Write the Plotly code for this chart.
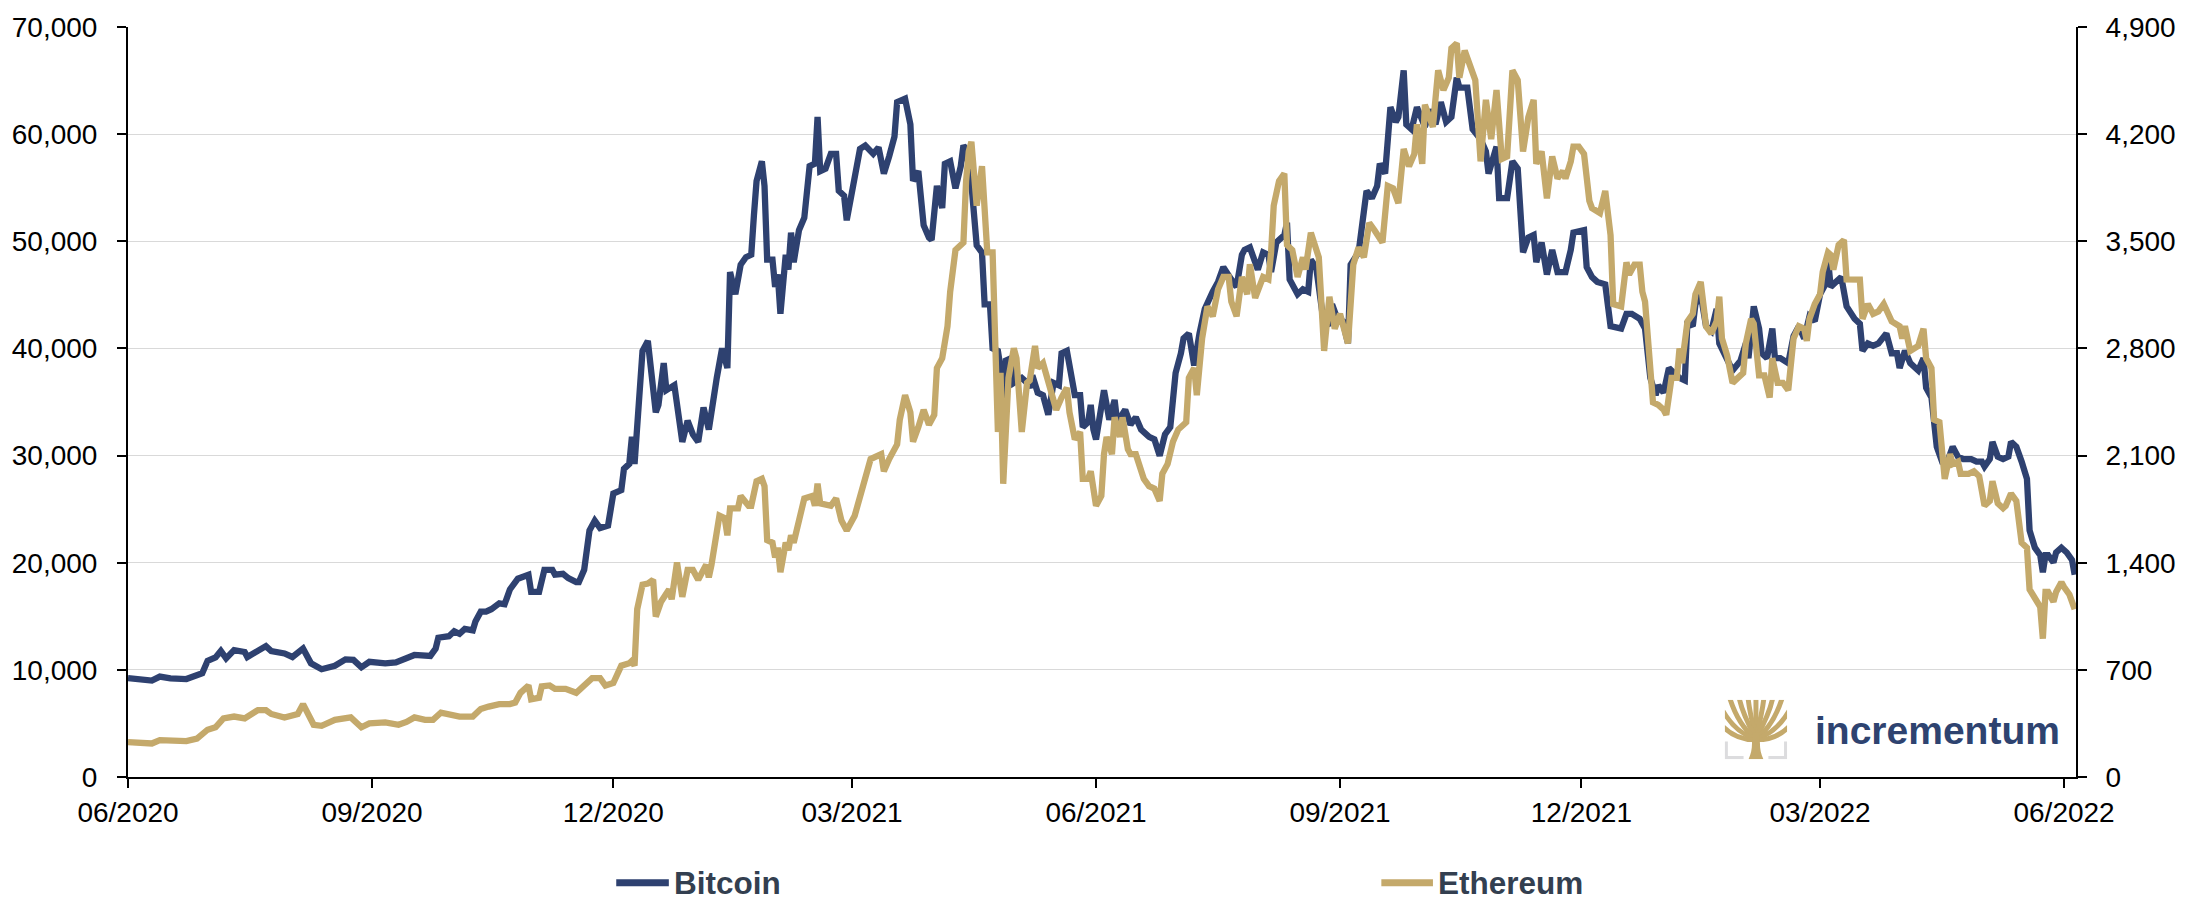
import base64
import plotly.graph_objects as go

# ---------------- data ----------------
btc_dates = [
 "2020-06-27","2020-07-01","2020-07-06","2020-07-09","2020-07-13","2020-07-19","2020-07-22","2020-07-25","2020-07-27","2020-07-30",
 "2020-08-01","2020-08-03","2020-08-06","2020-08-10","2020-08-11","2020-08-15","2020-08-18","2020-08-20","2020-08-25","2020-08-28",
 "2020-09-01","2020-09-04","2020-09-08","2020-09-13","2020-09-17","2020-09-20","2020-09-23","2020-09-26",
 "2020-10-02","2020-10-06","2020-10-10","2020-10-13","2020-10-19","2020-10-21","2020-10-22","2020-10-26","2020-10-28","2020-10-30",
 "2020-11-01","2020-11-04","2020-11-05","2020-11-07","2020-11-09","2020-11-11","2020-11-14","2020-11-16","2020-11-18","2020-11-21","2020-11-25","2020-11-26","2020-11-29",
 "2020-12-01","2020-12-04","2020-12-05","2020-12-08","2020-12-10","2020-12-13","2020-12-14","2020-12-16","2020-12-17","2020-12-18","2020-12-20","2020-12-22","2020-12-25","2020-12-27","2020-12-30","2020-12-31",
 "2021-01-02","2021-01-03","2021-01-04","2021-01-06","2021-01-07","2021-01-09","2021-01-12","2021-01-13","2021-01-15","2021-01-16","2021-01-19","2021-01-22","2021-01-24","2021-01-26","2021-01-28","2021-01-30",
 "2021-02-01","2021-02-04","2021-02-06","2021-02-08","2021-02-09","2021-02-11","2021-02-13","2021-02-15","2021-02-17","2021-02-18","2021-02-19","2021-02-21","2021-02-22","2021-02-23","2021-02-25","2021-02-26","2021-02-27","2021-02-28",
 "2021-03-02","2021-03-03","2021-03-04","2021-03-05","2021-03-07","2021-03-09","2021-03-11","2021-03-13","2021-03-14","2021-03-15","2021-03-17","2021-03-19","2021-03-21","2021-03-22","2021-03-24","2021-03-25","2021-03-28","2021-03-30",
 "2021-04-01","2021-04-04","2021-04-06","2021-04-08","2021-04-10","2021-04-12","2021-04-13","2021-04-16","2021-04-18","2021-04-19","2021-04-21","2021-04-23","2021-04-25","2021-04-26","2021-04-28","2021-04-30",
 "2021-05-01","2021-05-03","2021-05-05","2021-05-07","2021-05-08","2021-05-09","2021-05-11","2021-05-13","2021-05-15","2021-05-16","2021-05-18","2021-05-19","2021-05-21","2021-05-22","2021-05-23","2021-05-24","2021-05-26","2021-05-27","2021-05-30",
 "2021-06-01","2021-06-02","2021-06-03","2021-06-05","2021-06-07","2021-06-09","2021-06-11","2021-06-13","2021-06-14","2021-06-16","2021-06-17","2021-06-19","2021-06-21","2021-06-22","2021-06-24","2021-06-25","2021-06-26","2021-06-27","2021-06-30",
 "2021-07-02","2021-07-04","2021-07-05","2021-07-08","2021-07-10","2021-07-12","2021-07-14","2021-07-17","2021-07-19","2021-07-21","2021-07-23","2021-07-25","2021-07-27","2021-07-29","2021-07-30",
 "2021-08-01","2021-08-03","2021-08-05","2021-08-07","2021-08-10","2021-08-12","2021-08-14","2021-08-16","2021-08-17","2021-08-19","2021-08-21","2021-08-22","2021-08-24","2021-08-27","2021-08-29","2021-08-31",
 "2021-09-01","2021-09-03","2021-09-06","2021-09-07","2021-09-08","2021-09-11","2021-09-13","2021-09-15","2021-09-16","2021-09-18","2021-09-21","2021-09-23","2021-09-24","2021-09-26","2021-09-28","2021-09-30",
 "2021-10-01","2021-10-04","2021-10-07","2021-10-09","2021-10-11","2021-10-12","2021-10-14","2021-10-16","2021-10-18","2021-10-19","2021-10-21","2021-10-22","2021-10-24","2021-10-26","2021-10-27","2021-10-29","2021-10-31",
 "2021-11-02","2021-11-04","2021-11-06","2021-11-08","2021-11-10","2021-11-11","2021-11-14","2021-11-16","2021-11-19","2021-11-21","2021-11-22","2021-11-25","2021-11-26","2021-11-29",
 "2021-12-01","2021-12-03","2021-12-05","2021-12-07","2021-12-09","2021-12-10","2021-12-12","2021-12-14","2021-12-16","2021-12-18","2021-12-21","2021-12-23","2021-12-24","2021-12-28","2021-12-29","2021-12-31",
 "2022-01-02","2022-01-05","2022-01-06","2022-01-07","2022-01-11","2022-01-13","2022-01-15","2022-01-18","2022-01-20","2022-01-22","2022-01-24","2022-01-25","2022-01-27","2022-01-29","2022-01-31",
 "2022-02-02","2022-02-04","2022-02-05","2022-02-07","2022-02-08","2022-02-10","2022-02-12","2022-02-14","2022-02-16","2022-02-17","2022-02-20","2022-02-22","2022-02-25","2022-02-27","2022-02-28",
 "2022-03-02","2022-03-04","2022-03-05","2022-03-07","2022-03-09","2022-03-10","2022-03-12","2022-03-15","2022-03-17","2022-03-19","2022-03-21","2022-03-23","2022-03-25","2022-03-27","2022-03-29","2022-03-30","2022-03-31",
 "2022-04-02","2022-04-04","2022-04-06","2022-04-09","2022-04-11","2022-04-12","2022-04-14","2022-04-16","2022-04-18","2022-04-21","2022-04-23","2022-04-25","2022-04-26","2022-04-28","2022-04-30",
 "2022-05-03","2022-05-05","2022-05-06","2022-05-08","2022-05-09","2022-05-10","2022-05-12","2022-05-14","2022-05-16","2022-05-18","2022-05-20","2022-05-23","2022-05-25","2022-05-27","2022-05-28","2022-05-30","2022-05-31",
 "2022-06-02","2022-06-04","2022-06-06","2022-06-07","2022-06-09","2022-06-11","2022-06-13","2022-06-14","2022-06-16","2022-06-18","2022-06-19","2022-06-20","2022-06-21","2022-06-23","2022-06-24","2022-06-26","2022-06-28","2022-06-30","2022-07-01",
]
btc_usd = [
 9230,9150,9000,9370,9200,9140,9400,9690,10840,11160,
 11760,11070,11850,11670,11200,11760,12220,11760,11530,11200,
 11990,10610,10060,10380,10980,10930,10240,10750,
 10610,10700,11100,11390,11300,11990,13000,13140,13600,13370,
 13830,13690,14510,15430,15430,15660,16210,16120,17500,18510,18880,17270,17270,
 19340,19340,18880,18970,18560,18190,18190,19340,20950,23010,23930,23240,23470,26460,26780,28760,
 29220,31740,29220,35420,39780,40700,34040,34730,38630,36110,36570,31280,33250,31970,31280,34500,
 32430,37250,40010,38170,47130,45060,47820,48510,48740,52410,55630,57470,55170,48280,48280,45750,46900,43230,
 48740,47360,50810,48050,51040,52190,57010,57240,61600,56550,56780,58160,58160,54710,54250,51960,56090,58620,
 58940,58160,58760,56320,57930,59770,62990,63310,60920,55630,56550,51500,50350,50120,55170,53100,
 57240,57470,54940,57010,58940,58580,55370,49630,48940,44120,44120,40010,39780,38170,34040,38860,39090,36790,37250,
 36790,36330,37480,35870,35640,33810,36790,36560,39550,39780,38170,35640,35640,32660,33120,34730,32430,31510,36100,
 33350,35190,33120,34270,32890,33580,32430,31740,31510,29990,31970,32660,37710,39550,40930,
 41390,38400,41390,43690,45300,46210,47590,46670,46440,45750,48740,49200,49430,47360,48970,48740,
 47130,49890,50580,51730,46440,45060,45520,45290,48280,47590,42080,42310,44120,42770,42540,40470,
 47820,48970,54710,54020,55170,57240,56320,62520,61140,61600,65960,60900,60450,62520,61830,60680,62290,
 60920,62990,61140,61600,65270,64350,64350,60450,59530,58390,56320,58840,54020,54020,
 57470,56780,48970,50350,50580,48050,49890,46900,49200,47130,47130,49200,50810,51040,47590,46670,
 46210,45980,43690,42080,41850,43230,43230,42770,41850,37250,35640,36560,35870,38170,37710,
 37250,37020,42540,42080,44120,45060,42080,41620,43690,40470,39090,37940,38860,40470,39090,
 43920,41850,39550,39090,41850,39090,39090,38630,41160,42080,40930,42990,42540,45060,45980,48280,45750,
 46210,46670,43920,42770,42310,39780,40470,40240,40470,41390,39550,39550,38170,39780,38630,
 37940,39090,36330,35420,32200,30820,29440,29440,30820,29900,29670,29670,29440,29440,28980,29670,31280,
 29900,29670,29900,31280,30820,29440,27830,23010,21400,20710,19110,20710,20710,20020,20950,21400,20950,20250,18880,
]

eth_dates = [
 "2020-06-27","2020-07-01","2020-07-06","2020-07-09","2020-07-14","2020-07-19","2020-07-23","2020-07-27","2020-07-30",
 "2020-08-02","2020-08-06","2020-08-10","2020-08-15","2020-08-18","2020-08-20","2020-08-25","2020-08-30",
 "2020-09-01","2020-09-05","2020-09-08","2020-09-13","2020-09-19","2020-09-23","2020-09-26",
 "2020-10-02","2020-10-07","2020-10-10","2020-10-13","2020-10-17","2020-10-20","2020-10-23","2020-10-28","2020-10-30",
 "2020-11-04","2020-11-07","2020-11-10","2020-11-14","2020-11-18","2020-11-20","2020-11-22","2020-11-25","2020-11-26","2020-11-29","2020-11-30",
 "2020-12-03","2020-12-05","2020-12-09","2020-12-13","2020-12-16","2020-12-19","2020-12-22","2020-12-24","2020-12-27","2020-12-30",
 "2021-01-02","2021-01-03","2021-01-04","2021-01-05","2021-01-07","2021-01-09","2021-01-11","2021-01-12","2021-01-14","2021-01-17","2021-01-18","2021-01-20","2021-01-22","2021-01-24","2021-01-26","2021-01-28","2021-01-31",
 "2021-02-01","2021-02-02","2021-02-04","2021-02-05","2021-02-07","2021-02-08","2021-02-09","2021-02-12","2021-02-13","2021-02-16","2021-02-17","2021-02-19","2021-02-21","2021-02-22","2021-02-23","2021-02-25","2021-02-26","2021-02-27","2021-02-28",
 "2021-03-02","2021-03-03","2021-03-04","2021-03-05","2021-03-07","2021-03-09","2021-03-12","2021-03-13","2021-03-14","2021-03-15","2021-03-19","2021-03-21","2021-03-23","2021-03-25","2021-03-28","2021-03-30",
 "2021-04-01","2021-04-03","2021-04-07","2021-04-08","2021-04-10","2021-04-13","2021-04-14","2021-04-16","2021-04-18","2021-04-19","2021-04-21","2021-04-23","2021-04-25","2021-04-27","2021-04-28","2021-04-30",
 "2021-05-02","2021-05-03","2021-05-05","2021-05-08","2021-05-09","2021-05-10","2021-05-11","2021-05-13","2021-05-15","2021-05-17","2021-05-19","2021-05-20","2021-05-21","2021-05-22","2021-05-23","2021-05-25","2021-05-27","2021-05-28","2021-05-30",
 "2021-06-01","2021-06-02","2021-06-04","2021-06-05","2021-06-07","2021-06-09","2021-06-11","2021-06-12","2021-06-14","2021-06-16","2021-06-17","2021-06-19","2021-06-21","2021-06-22","2021-06-24","2021-06-25","2021-06-27","2021-06-29","2021-06-30",
 "2021-07-01","2021-07-03","2021-07-04","2021-07-06","2021-07-07","2021-07-09","2021-07-10","2021-07-12","2021-07-14","2021-07-15","2021-07-17","2021-07-19","2021-07-21","2021-07-22","2021-07-24","2021-07-26","2021-07-28","2021-07-31",
 "2021-08-01","2021-08-03","2021-08-04","2021-08-06","2021-08-08","2021-08-10","2021-08-12","2021-08-14","2021-08-16","2021-08-17","2021-08-19","2021-08-21","2021-08-23","2021-08-24","2021-08-26","2021-08-29","2021-08-31",
 "2021-09-01","2021-09-02","2021-09-04","2021-09-06","2021-09-07","2021-09-09","2021-09-11","2021-09-13","2021-09-14","2021-09-16","2021-09-18","2021-09-19","2021-09-20","2021-09-21","2021-09-23","2021-09-25","2021-09-27","2021-09-29","2021-09-30",
 "2021-10-02","2021-10-04","2021-10-06","2021-10-08","2021-10-10","2021-10-13","2021-10-15","2021-10-17","2021-10-19","2021-10-21","2021-10-23","2021-10-25","2021-10-26","2021-10-28","2021-10-29",
 "2021-11-01","2021-11-03","2021-11-05","2021-11-07","2021-11-08","2021-11-10","2021-11-11","2021-11-13","2021-11-15","2021-11-17","2021-11-19","2021-11-21","2021-11-23","2021-11-24","2021-11-25","2021-11-27","2021-11-29",
 "2021-12-01","2021-12-03","2021-12-05","2021-12-07","2021-12-09","2021-12-10","2021-12-12","2021-12-14","2021-12-16","2021-12-18","2021-12-20","2021-12-21","2021-12-23","2021-12-24","2021-12-26","2021-12-28","2021-12-30","2021-12-31",
 "2022-01-03","2022-01-05","2022-01-07","2022-01-08","2022-01-11","2022-01-13","2022-01-14","2022-01-16","2022-01-18","2022-01-19","2022-01-20","2022-01-22","2022-01-23","2022-01-25","2022-01-27","2022-01-28","2022-01-30",
 "2022-02-01","2022-02-02","2022-02-03","2022-02-05","2022-02-07","2022-02-08","2022-02-10","2022-02-12","2022-02-14","2022-02-16","2022-02-17","2022-02-18","2022-02-20","2022-02-22","2022-02-26","2022-02-27",
 "2022-03-01","2022-03-02","2022-03-04","2022-03-06","2022-03-08","2022-03-09","2022-03-11","2022-03-13","2022-03-15","2022-03-17","2022-03-19","2022-03-21","2022-03-22","2022-03-23","2022-03-25","2022-03-27","2022-03-28","2022-03-30","2022-03-31",
 "2022-04-01","2022-04-03","2022-04-05","2022-04-06","2022-04-09","2022-04-11","2022-04-12","2022-04-14","2022-04-16","2022-04-18","2022-04-20","2022-04-23","2022-04-26","2022-04-27","2022-04-28","2022-04-30",
 "2022-05-03","2022-05-05","2022-05-06","2022-05-08","2022-05-09","2022-05-11","2022-05-13","2022-05-14","2022-05-15","2022-05-16","2022-05-18","2022-05-19","2022-05-22","2022-05-24","2022-05-26","2022-05-28","2022-05-30","2022-05-31",
 "2022-06-02","2022-06-04","2022-06-05","2022-06-07","2022-06-09","2022-06-11","2022-06-13","2022-06-14","2022-06-16","2022-06-18","2022-06-19","2022-06-20","2022-06-21","2022-06-23","2022-06-24","2022-06-26","2022-06-27","2022-06-29","2022-07-01",
]
eth_usd = [
 228,224,219,241,238,235,251,309,325,
 383,395,383,437,437,412,389,412,
 476,341,334,373,389,325,350,
 357,341,360,389,373,373,421,405,395,
 395,444,460,476,476,486,550,598,508,518,592,
 598,576,576,550,598,646,646,598,614,727,
 743,759,727,1096,1257,1264,1289,1048,1145,1225,1161,1402,1177,1353,1353,1289,1386,
 1305,1386,1627,1707,1691,1579,1755,1755,1836,1772,1772,1932,1948,1900,1547,1531,1434,1498,1338,
 1531,1482,1579,1531,1675,1820,1836,1772,1916,1788,1772,1820,1675,1611,1707,1820,
 1948,2077,2109,1997,2077,2173,2334,2495,2382,2190,2286,2399,2302,2366,2672,2736,
 2945,3170,3443,3492,3894,4087,4150,3733,3990,3427,3427,2608,2254,2640,1916,2608,2800,2736,2254,
 2575,2591,2816,2672,2704,2591,2479,2399,2479,2543,2382,2206,2254,1948,1948,1997,1772,1836,2109,
 2222,2109,2350,2222,2350,2141,2109,2109,1981,1948,1900,1884,1804,1981,2045,2190,2270,2318,
 2608,2672,2495,2865,3074,3010,3186,3267,3267,3106,3010,3267,3154,3350,3130,3267,3251,
 3427,3733,3894,3942,3476,3443,3267,3395,3315,3556,3443,3395,3090,2784,3138,2929,3026,2897,2833,
 3347,3460,3395,3620,3572,3492,3862,3846,3749,4103,3990,4071,4264,4006,4392,
 4247,4617,4488,4569,4762,4794,4569,4746,4649,4553,4022,4424,4167,4376,4488,4038,4054,
 4617,4553,4087,4311,4424,4006,4087,3781,4054,3910,3958,3910,4022,4119,4119,4071,3765,3717,
 3685,3829,3540,3090,3074,3363,3283,3347,3347,3170,3106,2640,2447,2431,2399,2366,2608,
 2608,2800,2704,2977,3026,3154,3234,2945,2897,2977,3138,2865,2752,2575,2640,2833,
 2993,2961,2624,2624,2479,2736,2575,2575,2527,2865,2945,2929,2849,2993,3090,3154,3300,3427,3411,
 3315,3476,3508,3251,3251,3250,2993,3090,3026,3042,3090,2977,2945,2865,2945,2784,
 2816,2929,2736,2672,2334,2318,1948,2045,2109,2045,2061,1981,1981,1997,1965,1772,1804,1932,
 1788,1756,1772,1852,1804,1531,1498,1225,1177,1112,904,1209,1209,1145,1209,1273,1241,1193,1096,
]

series_names = ["Bitcoin", "Ethereum"]
x_tick_dates = ["2020-06-27", "2020-09-27", "2020-12-27", "2021-03-27", "2021-06-27",
                "2021-09-27", "2021-12-27", "2022-03-27", "2022-06-27"]
x_tick_labels = ["06/2020", "09/2020", "12/2020", "03/2021", "06/2021",
                 "09/2021", "12/2021", "03/2022", "06/2022"]
x_range = ["2020-06-27", "2022-07-01 12:00"]
btc_ticks = [0, 10000, 20000, 30000, 40000, 50000, 60000, 70000]
eth_ticks = [0, 700, 1400, 2100, 2800, 3500, 4200, 4900]
logo_text = "incrementum"

# ---------------- styling ----------------
W, H = 2188, 903
L, R, T, B = 122, 2085, 19, 777          # plot area in pixels
BTC_COLOR = "#2E4170"
ETH_COLOR = "#C4A96B"
LEGEND_TEXT = "#333F50"
FONT = "Liberation Sans, Arial, Helvetica, sans-serif"


def px(x):
    return (x - L) / (R - L)


def py(y):
    return (B - y) / (B - T)


fig = go.Figure()
fig.add_trace(go.Scatter(x=btc_dates, y=btc_usd, name=series_names[0], mode="lines",
                         line=dict(color=BTC_COLOR, width=6.3), yaxis="y"))
fig.add_trace(go.Scatter(x=eth_dates, y=eth_usd, name=series_names[1], mode="lines",
                         line=dict(color=ETH_COLOR, width=6.3), yaxis="y2"))

axis_common = dict(showline=True, linecolor="black", linewidth=2, ticks="outside",
                   ticklen=9, tickwidth=2, tickcolor="black", zeroline=False,
                   tickfont=dict(family=FONT, size=28, color="black"))

fig.update_layout(
    width=W, height=H,
    margin=dict(l=L, r=W - R, t=T, b=H - B, pad=0),
    paper_bgcolor="white", plot_bgcolor="white",
    showlegend=False,
    font=dict(family=FONT, size=28, color="black"),
    xaxis=dict(type="date", range=x_range, tickvals=x_tick_dates, ticktext=x_tick_labels,
               showgrid=False, ticklabelstandoff=0, **axis_common),
    yaxis=dict(range=[0, 70000], tickvals=btc_ticks, tickformat=",", showgrid=True,
               gridcolor="#D9D9D9", gridwidth=1.3, ticklabelstandoff=14, **axis_common),
    yaxis2=dict(range=[0, 4900], tickvals=eth_ticks, tickformat=",", overlaying="y",
                side="right", showgrid=False, ticklabelstandoff=13, **axis_common),
)

# ---- legend (drawn manually to match the wide spacing) ----
legend_y = py(884)
for (x0, x1, tx), name, col in zip([(614, 667, 670), (1385, 1437, 1440)], series_names,
                                   [BTC_COLOR, ETH_COLOR]):
    fig.add_shape(type="line", xref="paper", yref="paper", x0=px(x0), x1=px(x1),
                  y0=legend_y, y1=legend_y, line=dict(color=col, width=7))
    fig.add_annotation(xref="paper", yref="paper", x=px(tx), y=legend_y, text="<b>%s</b>" % name,
                       showarrow=False, xanchor="left", yanchor="middle",
                       font=dict(family=FONT, size=31.5, color=LEGEND_TEXT))

# ---- logo ----
tree_svg = """<svg xmlns="http://www.w3.org/2000/svg" viewBox="0 0 63 60" width="126" height="120">
<defs><clipPath id="c"><rect x="0" y="0" width="63" height="43"/></clipPath></defs>
<g fill="none" stroke="#C4A96B" stroke-width="5" clip-path="url(#c)">
<path d="M31.5 36 C31.5 24 31.5 12 31.5 -2"/>
<path d="M31 36 C28 24 25 12 23.5 -2"/>
<path d="M32 36 C35 24 38 12 39.5 -2"/>
<path d="M30.5 37 C25 27 18 14 14.5 -2"/>
<path d="M32.5 37 C38 27 45 14 48.5 -2"/>
<path d="M30 38 C22 32 12 20 5 -2"/>
<path d="M33 38 C41 32 51 20 58 -2"/>
<path d="M30 39 C20 36 8 28 -2 11"/>
<path d="M33 39 C43 36 55 28 65 11"/>
<path d="M30 40.5 C20 40.5 8 37 -2 27"/>
<path d="M33 40.5 C43 40.5 55 37 65 27"/>
</g>
<path d="M24 60 L39 60 C36.5 55 35.5 50 35.5 44 L35 33 L28 33 L27.5 44 C27.5 50 26.5 55 24 60 Z" fill="#C4A96B"/>
<path d="M1.6 42 V58.4 H19" fill="none" stroke="#DCDCDE" stroke-width="3.2"/>
<path d="M61.4 42 V58.4 H44" fill="none" stroke="#DCDCDE" stroke-width="3.2"/>
</svg>"""
tree_uri = "data:image/svg+xml;base64," + base64.b64encode(tree_svg.encode("utf-8")).decode("ascii")
fig.add_layout_image(dict(source=tree_uri, xref="paper", yref="paper", x=px(1731), y=py(699),
                          sizex=px(1794) - px(1731), sizey=py(699) - py(759),
                          xanchor="left", yanchor="top", sizing="stretch", layer="above"))
fig.add_annotation(xref="paper", yref="paper", x=px(1820), y=py(730), text="<b>%s</b>" % logo_text,
                   showarrow=False, xanchor="left", yanchor="middle",
                   font=dict(family=FONT, size=39, color="#2E4370"))

fig.write_html("out.html", config={"displayModeBar": False},
               post_script="document.body.style.margin='0';document.body.style.overflow='hidden';")
